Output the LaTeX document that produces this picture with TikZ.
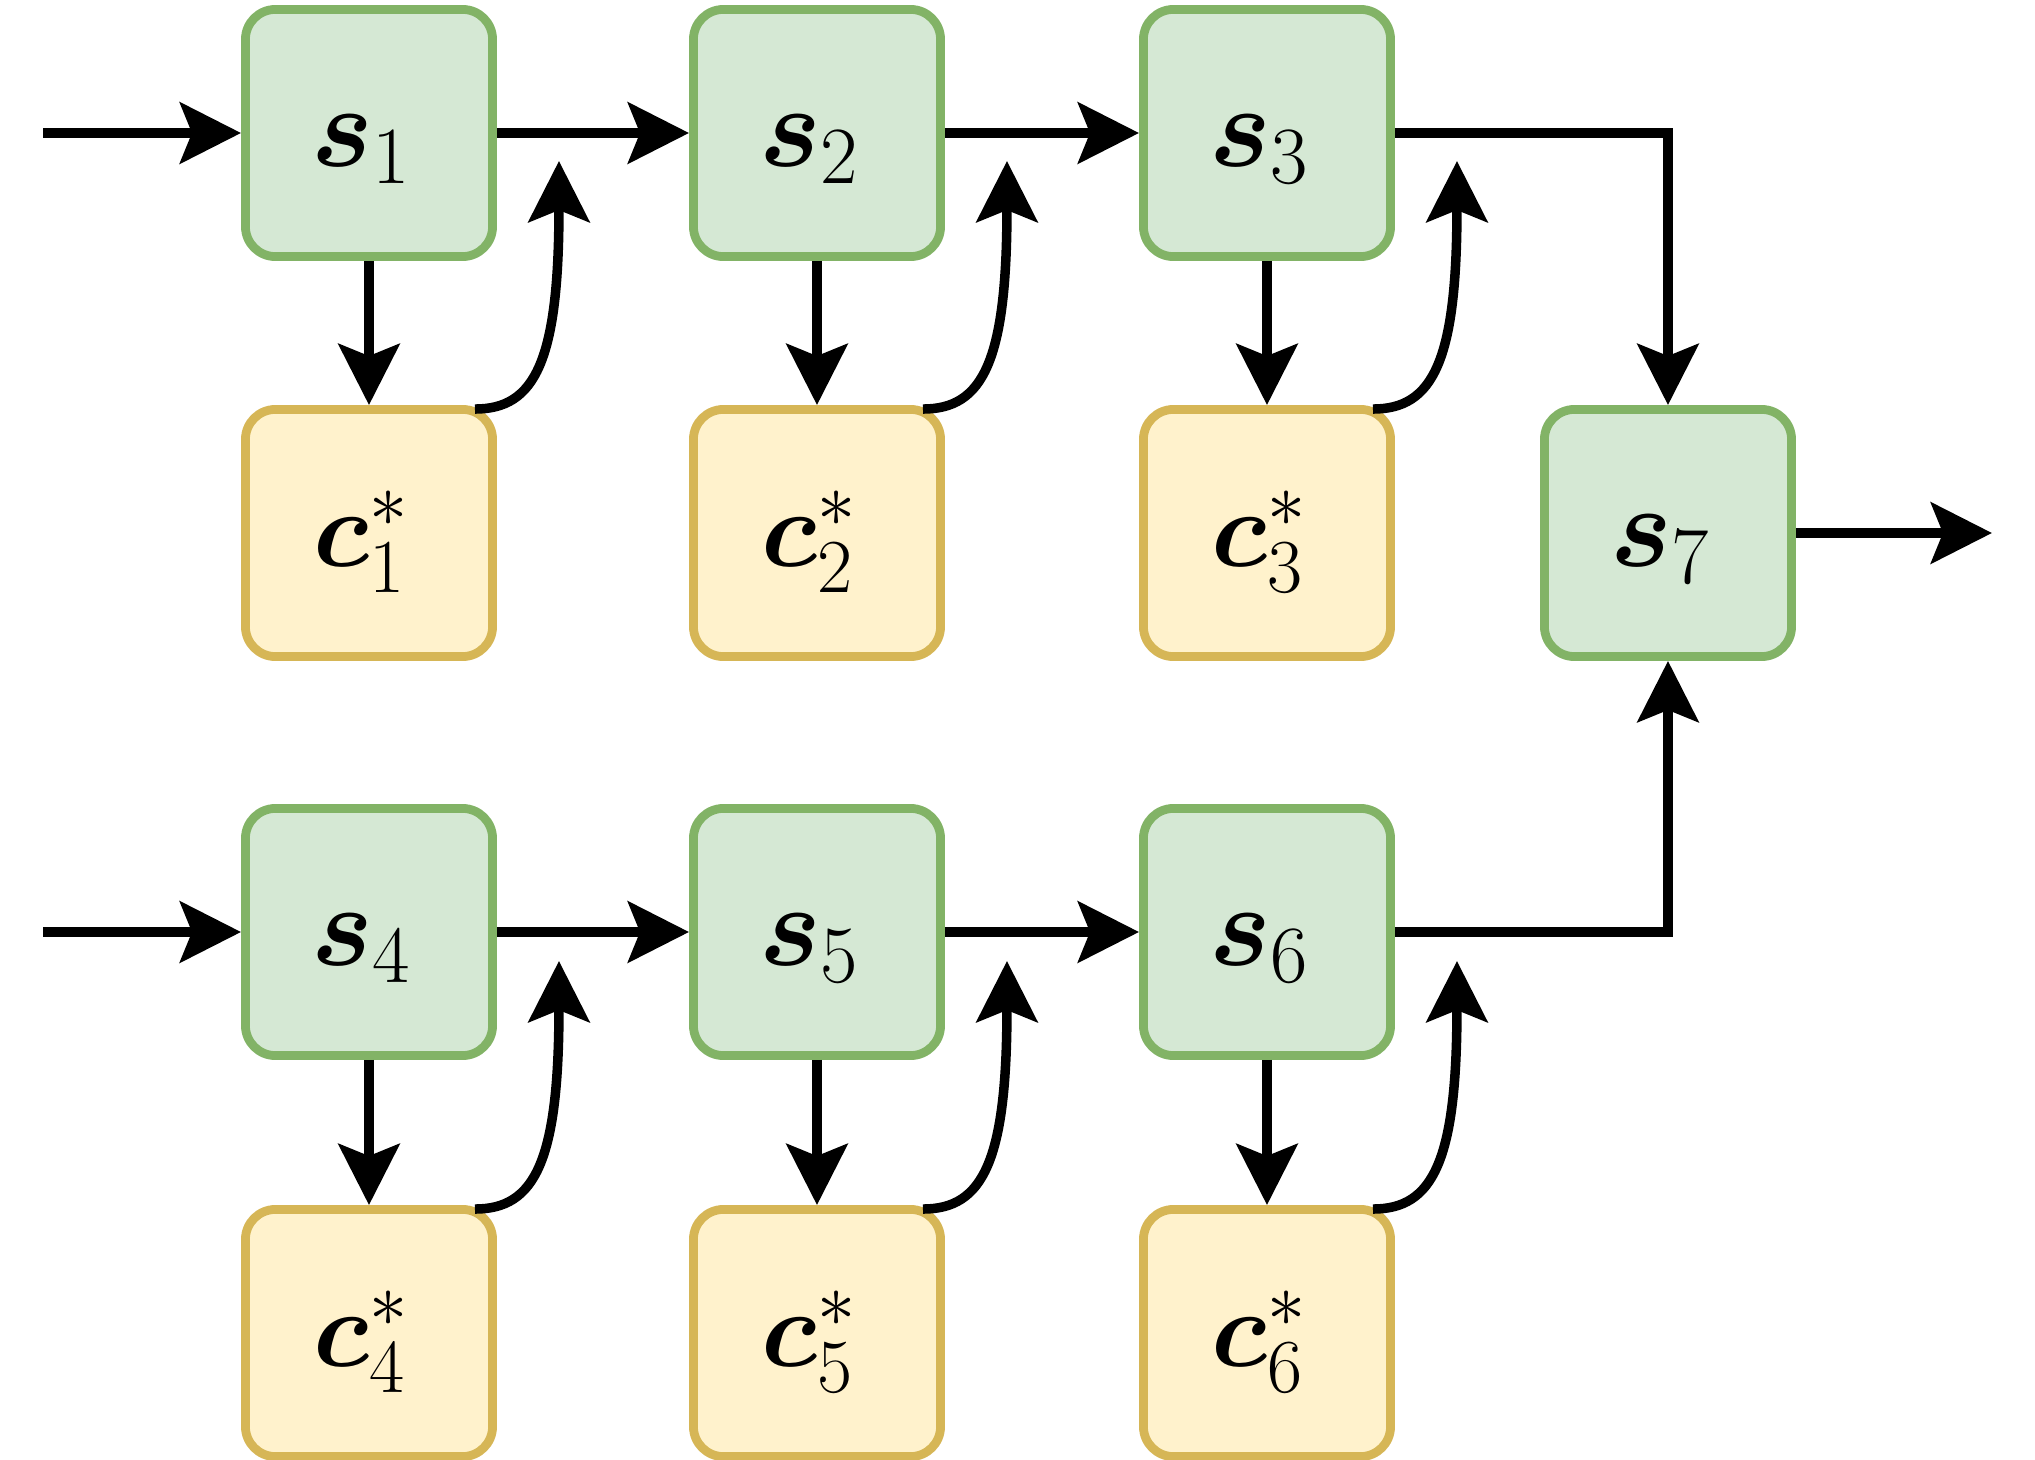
\RequirePackage{fix-cm}
\documentclass[tikz,border=0pt]{standalone}
\usepackage{bm}
\usetikzlibrary{arrows.meta,calc}
\definecolor{gfill}{HTML}{D5E8D4}
\definecolor{gdraw}{HTML}{82B366}
\definecolor{yfill}{HTML}{FFF2CC}
\definecolor{ydraw}{HTML}{D6B656}
\newcommand{\lbl}[1]{$#1$\kern0.15cm}
\begin{document}
\begin{tikzpicture}[x=0.01cm,y=-0.01cm,
  box/.style={rectangle, rounded corners=0.3cm, minimum size=2.47cm, line width=2.5pt,
    inner sep=0pt, text height=0.66cm, text depth=0cm},
  sbox/.style={box, draw=gdraw, fill=gfill, font=\fontsize{33}{40}\selectfont},
  cbox/.style={box, draw=ydraw, fill=yfill, font=\fontsize{31}{38}\selectfont},
  conn/.style={line width=2.7pt, -{Stealth[length=0.61cm,width=0.61cm,inset=0.12cm]}}]
\useasboundingbox (0,0) rectangle (2035,1460);

% state nodes
\node[sbox] (s1) at (369,133) {\lbl{\bm{s}_1}};
\node[sbox] (s2) at (817,133) {\lbl{\bm{s}_2}};
\node[sbox] (s3) at (1267,133) {\lbl{\bm{s}_3}};
\node[sbox] (s4) at (369,932) {\lbl{\bm{s}_4}};
\node[sbox] (s5) at (817,932) {\lbl{\bm{s}_5}};
\node[sbox] (s6) at (1267,932) {\lbl{\bm{s}_6}};
\node[sbox] (s7) at (1668,533) {\lbl{\bm{s}_7}};
% c nodes
\node[cbox] (c1) at (369,533) {\lbl{\bm{c}^{*}_{1}}};
\node[cbox] (c2) at (817,533) {\lbl{\bm{c}^{*}_{2}}};
\node[cbox] (c3) at (1267,533) {\lbl{\bm{c}^{*}_{3}}};
\node[cbox] (c4) at (369,1333) {\lbl{\bm{c}^{*}_{4}}};
\node[cbox] (c5) at (817,1333) {\lbl{\bm{c}^{*}_{5}}};
\node[cbox] (c6) at (1267,1333) {\lbl{\bm{c}^{*}_{6}}};

% free ends
\coordinate (in1) at (43,133);
\coordinate (in4) at (43,932);
\coordinate (out) at (1992,533);

% main flow
\draw[conn] (in1) -- (s1);
\draw[conn] (s1) -- (s2);
\draw[conn] (s2) -- (s3);
\draw[conn] (s3.east) -| (s7.north);
\draw[conn] (in4) -- (s4);
\draw[conn] (s4) -- (s5);
\draw[conn] (s5) -- (s6);
\draw[conn] (s6.east) -| (s7.south);
\draw[conn] (s7) -- (out);

% s -> c and feedback
\foreach \i in {1,...,6} {
  \draw[conn] (s\i) -- (c\i);
  \coordinate (a\i) at ($(c\i.north east)+(-22,4)$);
  \coordinate (t\i) at ($(a\i)+(84,-248)$);
  \draw[conn] (a\i) .. controls +(60,0) and +(0,200) .. (t\i);
}
\end{tikzpicture}
\end{document}
